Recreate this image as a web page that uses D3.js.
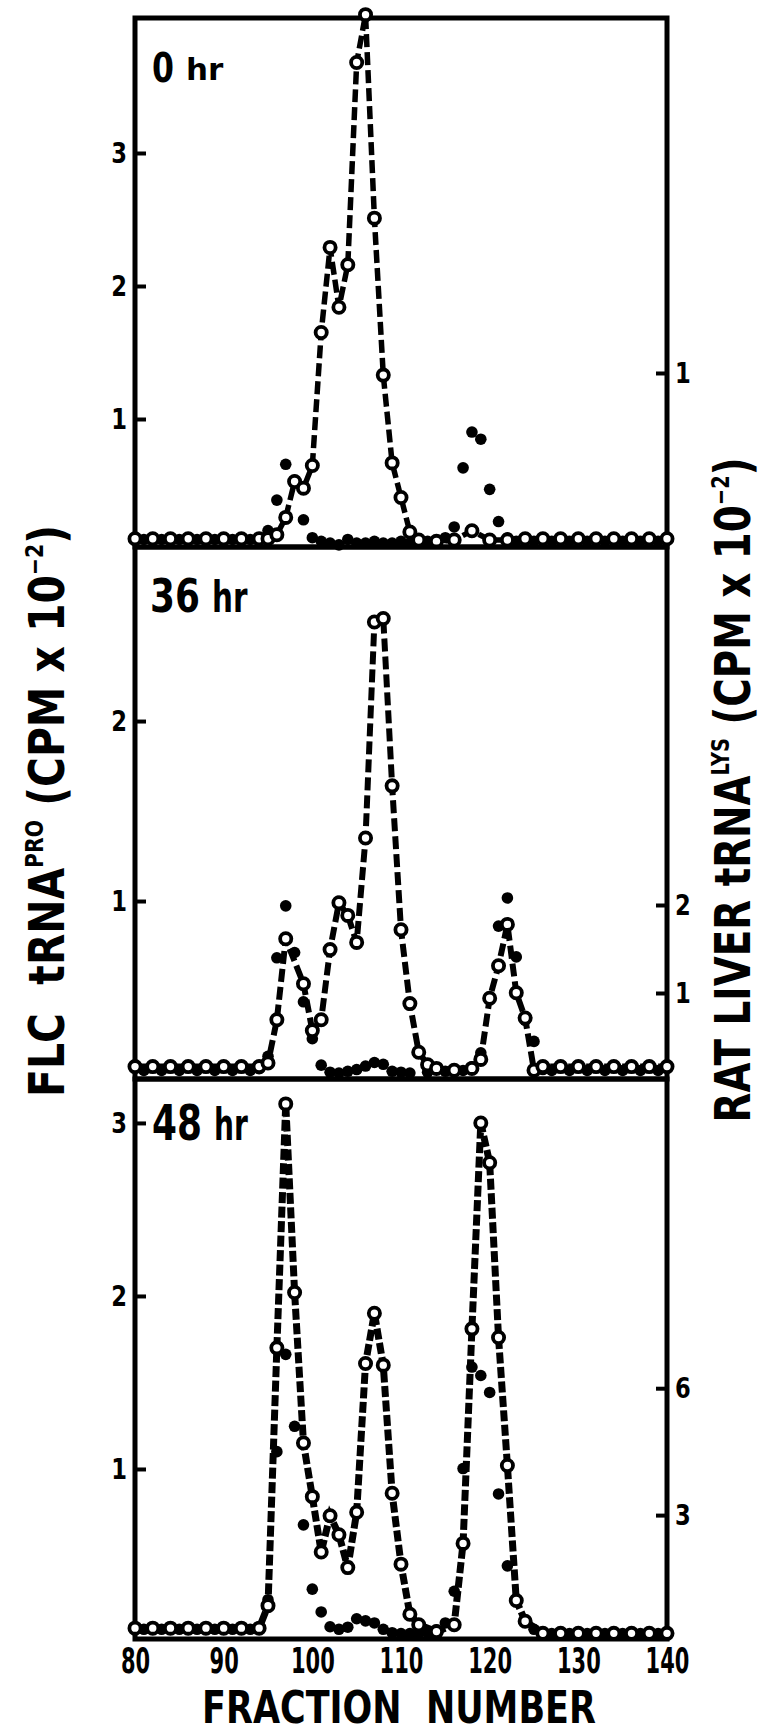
<!DOCTYPE html>
<html>
<head>
<meta charset="utf-8">
<script src="https://cdn.jsdelivr.net/npm/d3@7"></script>
<style>
  body { margin: 0; background: #fff; }
  svg { display: block; }
  text { font-family: "DejaVu Sans", sans-serif; font-weight: bold; fill: #000; white-space: pre; }
</style>
</head>
<body>
<svg id="chart" width="763" height="1734"></svg>
<script>
"use strict";

const fractionTicks = [80, 90, 100, 110, 120, 130, 140];

// 0 hr : open circles = FLC tRNA-pro (left axis), dots = rat liver tRNA-lys (right axis)
const openFrac0 = [80, 82, 84, 86, 88, 90, 92, 94, 95, 96, 97, 98, 99, 100, 101, 102, 103, 104, 105, 106, 107, 108, 109, 110, 111, 112, 114, 116, 118, 120, 122, 124, 126, 128, 130, 132, 134, 136, 138, 140];
const openVal0 = [0.10, 0.10, 0.10, 0.10, 0.10, 0.10, 0.10, 0.10, 0.10, 0.13, 0.26, 0.53, 0.48, 0.65, 1.65, 2.29, 1.84, 2.16, 3.68, 4.04, 2.51, 1.33, 0.67, 0.41, 0.15, 0.09, 0.08, 0.09, 0.16, 0.09, 0.09, 0.10, 0.10, 0.10, 0.10, 0.10, 0.10, 0.10, 0.10, 0.10];
const dotFrac0 = [81, 83, 85, 87, 89, 91, 93, 94, 95, 96, 97, 98, 99, 100, 101, 102, 103, 104, 105, 106, 107, 108, 109, 110, 111, 113, 115, 116, 117, 118, 119, 120, 121, 122, 123, 125, 127, 129, 131, 133, 135, 137, 139];
const dotVal0 = [0.07, 0.07, 0.07, 0.07, 0.07, 0.07, 0.07, 0.07, 0.12, 0.29, 0.49, 0.40, 0.18, 0.08, 0.06, 0.05, 0.04, 0.07, 0.05, 0.05, 0.06, 0.05, 0.05, 0.06, 0.05, 0.06, 0.08, 0.14, 0.47, 0.67, 0.63, 0.35, 0.17, 0.08, 0.06, 0.06, 0.06, 0.06, 0.06, 0.06, 0.06, 0.06, 0.06];

// 36 hr
const openFrac1 = [80, 82, 84, 86, 88, 90, 92, 94, 95, 96, 97, 99, 100, 101, 102, 103, 104, 105, 106, 107, 108, 109, 110, 111, 112, 113, 114, 116, 118, 119, 120, 121, 122, 123, 124, 125, 126, 128, 130, 132, 134, 136, 138, 140];
const openVal1 = [0.08, 0.08, 0.08, 0.08, 0.08, 0.08, 0.08, 0.08, 0.10, 0.34, 0.79, 0.54, 0.28, 0.34, 0.73, 0.99, 0.92, 0.77, 1.35, 2.55, 2.57, 1.64, 0.84, 0.43, 0.16, 0.09, 0.07, 0.06, 0.07, 0.12, 0.46, 0.64, 0.87, 0.49, 0.35, 0.06, 0.08, 0.08, 0.08, 0.08, 0.08, 0.08, 0.08, 0.08];
const dotFrac1 = [81, 83, 85, 87, 89, 91, 93, 94, 95, 96, 97, 98, 99, 100, 101, 102, 103, 104, 105, 106, 107, 108, 109, 110, 111, 113, 115, 117, 118, 119, 120, 121, 122, 123, 124, 125, 126, 127, 129, 131, 133, 135, 137, 139];
const dotVal1 = [0.12, 0.12, 0.12, 0.12, 0.12, 0.12, 0.12, 0.14, 0.28, 1.40, 1.99, 1.46, 0.90, 0.48, 0.18, 0.10, 0.09, 0.11, 0.13, 0.17, 0.21, 0.19, 0.11, 0.10, 0.09, 0.10, 0.11, 0.12, 0.16, 0.32, 0.94, 1.76, 2.08, 1.41, 0.69, 0.45, 0.13, 0.12, 0.12, 0.12, 0.12, 0.12, 0.12, 0.12];

// 48 hr
const openFrac2 = [80, 82, 84, 86, 88, 90, 92, 94, 95, 96, 97, 98, 99, 100, 101, 102, 103, 104, 105, 106, 107, 108, 109, 110, 111, 112, 114, 116, 117, 118, 119, 120, 121, 122, 123, 124, 126, 128, 130, 132, 134, 136, 138, 140];
const openVal2 = [0.08, 0.08, 0.08, 0.08, 0.08, 0.08, 0.08, 0.08, 0.21, 1.70, 3.11, 2.02, 1.15, 0.84, 0.52, 0.73, 0.62, 0.43, 0.75, 1.61, 1.90, 1.60, 0.86, 0.45, 0.16, 0.10, 0.06, 0.10, 0.57, 1.81, 3.00, 2.77, 1.76, 1.02, 0.24, 0.12, 0.05, 0.05, 0.05, 0.05, 0.05, 0.05, 0.05, 0.05];
const dotFrac2 = [81, 83, 85, 87, 89, 91, 93, 94, 95, 96, 97, 98, 99, 100, 101, 102, 103, 104, 105, 106, 107, 108, 109, 110, 111, 112, 113, 114, 115, 116, 117, 118, 119, 120, 121, 122, 123, 124, 125, 127, 129, 131, 133, 135, 137, 139];
const dotVal2 = [0.30, 0.30, 0.30, 0.30, 0.30, 0.30, 0.30, 0.35, 1.00, 4.50, 6.80, 5.10, 2.77, 1.25, 0.71, 0.36, 0.30, 0.35, 0.55, 0.50, 0.45, 0.30, 0.22, 0.20, 0.20, 0.20, 0.22, 0.28, 0.45, 1.20, 4.10, 6.50, 6.30, 5.90, 3.50, 1.80, 1.00, 0.50, 0.30, 0.20, 0.20, 0.20, 0.20, 0.20, 0.20, 0.20];

const zip = (fs, vs) => fs.map((f, i) => ({ f: f, v: vs[i] }));

const panels = [
  { num: "0", top: 18, bottom: 547, zero: 552, leftTop: 4.015, rightTop: 2.983,
    leftTicks: [1, 2, 3], rightTicks: [1],
    open: zip(openFrac0, openVal0), dots: zip(dotFrac0, dotVal0),
    dash: "13,5", dashW: 5.5,
    lab: { nx: 152, ny: 82, ns: 41, nl: 22, hx: 186, hy: 80, hs: 31, hl: 38 } },
  { num: "36", top: 547, bottom: 1079, zero: 1081, leftTop: 2.967, rightTop: 6.068,
    leftTicks: [1, 2], rightTicks: [1, 2],
    open: zip(openFrac1, openVal1), dots: zip(dotFrac1, dotVal1),
    dash: "13,5", dashW: 6,
    lab: { nx: 150, ny: 612, ns: 47, nl: 50, hx: 212, hy: 612, hs: 43, hl: 36 } },
  { num: "48", top: 1079, bottom: 1639, zero: 1642, leftTop: 3.254, rightTop: 13.31,
    leftTicks: [1, 2, 3], rightTicks: [3, 6],
    open: zip(openFrac2, openVal2), dots: zip(dotFrac2, dotVal2),
    dash: "11,3.5", dashW: 7,
    lab: { nx: 152, ny: 1140, ns: 50, nl: 50, hx: 214, hy: 1140, hs: 44, hl: 34 } }
];

const svg = d3.select("#chart");
const x = d3.scaleLinear().domain([80, 140]).range([135, 667]);

// squeeze a text element along its writing direction to a given length
const fit = (t, len) => {
  const w = t.node().getBBox().width;
  t.attr("transform", `scale(${len / w},1)`);
};

const squeezedText = (parent, tx, ty, size, len, str) => {
  const t = parent.append("g").attr("transform", `translate(${tx},${ty})`)
    .append("text").attr("font-size", size).text(str);
  fit(t, len);
};

panels.forEach((p) => {
  const yL = d3.scaleLinear().domain([0, p.leftTop]).range([p.zero, p.top]);
  const yR = d3.scaleLinear().domain([0, p.rightTop]).range([p.zero, p.top]);
  const g = svg.append("g");

  // frame
  g.append("rect")
    .attr("x", x(80)).attr("y", p.top)
    .attr("width", x(140) - x(80)).attr("height", p.bottom - p.top)
    .attr("fill", "none").attr("stroke", "#000").attr("stroke-width", 5);

  // inward ticks, labels outside
  const la = g.append("g").attr("transform", `translate(${x(80)},0)`)
    .call(d3.axisLeft(yL).tickValues(p.leftTicks).tickSizeInner(-11).tickSizeOuter(0).tickPadding(8).tickFormat(d3.format("d")));
  const ra = g.append("g").attr("transform", `translate(${x(140)},0)`)
    .call(d3.axisRight(yR).tickValues(p.rightTicks).tickSizeInner(-11).tickSizeOuter(0).tickPadding(8).tickFormat(d3.format("d")));
  [la, ra].forEach((a) => {
    a.select(".domain").remove();
    a.selectAll("line").attr("stroke", "#000").attr("stroke-width", 4);
    a.selectAll("text")
      .attr("font-size", 29).attr("font-family", null).attr("fill", "#000")
      .attr("lengthAdjust", "spacingAndGlyphs")
      .attr("textLength", function () { return this.getComputedTextLength() * 0.78; });
  });

  // dashed line through open circles
  g.append("path")
    .datum(p.open)
    .attr("d", d3.line().x((d) => x(d.f)).y((d) => yL(d.v)))
    .attr("fill", "none").attr("stroke", "#000")
    .attr("stroke-width", p.dashW).attr("stroke-dasharray", p.dash);

  g.selectAll(".dot")
    .data(p.dots)
    .enter()
    .append("circle")
    .attr("class", "dot")
    .attr("cx", (d) => x(d.f))
    .attr("cy", (d) => yR(d.v))
    .attr("r", 5.8)
    .attr("fill", "#000");

  g.selectAll(".open")
    .data(p.open)
    .enter()
    .append("circle")
    .attr("class", "open")
    .attr("cx", (d) => x(d.f))
    .attr("cy", (d) => yL(d.v))
    .attr("r", 5.6)
    .attr("fill", "#fff")
    .attr("stroke", "#000")
    .attr("stroke-width", 3.8);

  // panel label, e.g. "36hr"
  const L = p.lab;
  squeezedText(g, L.nx, L.ny, L.ns, L.nl, p.num);
  squeezedText(g, L.hx, L.hy, L.hs, L.hl, "hr");
});

// fraction axis
const xa = svg.append("g").attr("transform", `translate(0,${panels[2].bottom})`)
  .call(d3.axisBottom(x).tickValues(fractionTicks).tickSize(0).tickPadding(9));
xa.select(".domain").remove();
xa.selectAll("text")
  .attr("font-size", 35).attr("font-family", null).attr("fill", "#000")
  .attr("lengthAdjust", "spacingAndGlyphs")
  .attr("textLength", function () { return this.getComputedTextLength() * 0.6; });

const xTitle = svg.append("g").attr("transform", "translate(399,1723)")
  .append("text").attr("text-anchor", "middle").attr("font-size", 45).text("FRACTION  NUMBER");
fit(xTitle, 394);

const rotTitle = (cx, cy, len, main, sup) => {
  const t = svg.append("g").attr("transform", `translate(${cx},${cy}) rotate(-90)`)
    .append("text").attr("text-anchor", "middle").attr("font-size", 50);
  t.append("tspan").text(main);
  t.append("tspan").attr("font-size", 25).attr("dy", -21).text(sup);
  t.append("tspan").attr("dy", 21).text(" (CPM x 10");
  t.append("tspan").attr("font-size", 25).attr("dy", -21).text("\u22122");
  t.append("tspan").attr("dy", 21).text(")");
  fit(t, len);
};

rotTitle(64, 811, 572, "FLC  tRNA", "PRO");
rotTitle(750, 790, 665, "RAT LIVER tRNA", "LYS");
</script>
</body>
</html>
